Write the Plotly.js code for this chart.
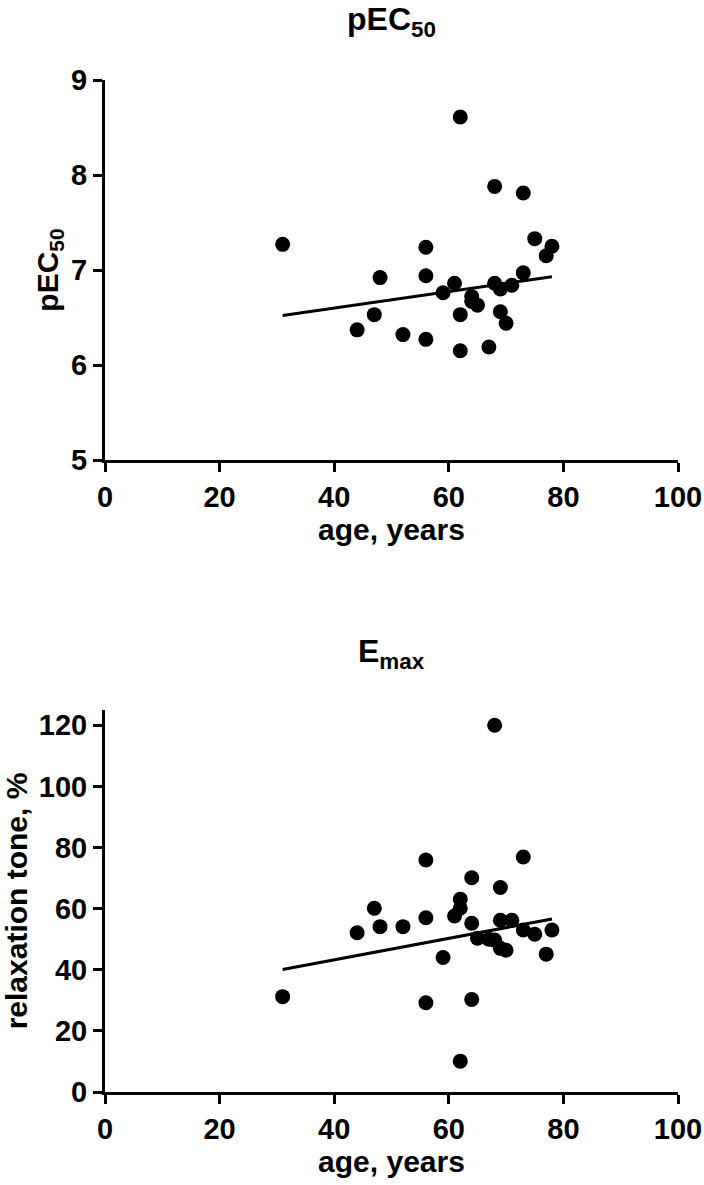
<!DOCTYPE html>
<html>
<head>
<meta charset="utf-8">
<script src="https://cdn.plot.ly/plotly-3.0.1.min.js"></script>
<style>
  body { margin: 0; background: #fff; }
  #chart_area { width: 704px; height: 1185px; }
</style>
</head>
<body>
<div id="chart_area"></div>
<script>
// pEC50 vs age
var ageP = [31, 62, 68, 73, 75, 78, 77, 56, 56, 48, 73, 61, 59, 68, 69, 71, 64, 64, 65, 69, 70, 62, 47, 44, 52, 56, 62, 67];
var pec50 = [7.27, 8.61, 7.88, 7.81, 7.33, 7.25, 7.15, 7.24, 6.94, 6.92, 6.97, 6.86, 6.76, 6.86, 6.80, 6.84, 6.72, 6.67, 6.63, 6.56, 6.44, 6.53, 6.53, 6.37, 6.32, 6.27, 6.15, 6.19];
var ageFitP = [31, 78];
var pec50Fit = [6.52, 6.93];

// Emax vs age
var ageE = [68, 56, 73, 64, 69, 62, 62, 61, 47, 44, 48, 52, 56, 64, 69, 71, 78, 73, 75, 65, 67, 68, 69, 70, 77, 59, 31, 56, 64, 62];
var emax = [120, 75.9, 76.9, 70.1, 66.9, 63.1, 60.1, 57.6, 60.1, 52.1, 54.1, 54.1, 57, 55.2, 56.2, 56.2, 53, 53, 51.6, 50.3, 50, 49.7, 47, 46.4, 45.1, 44, 31.2, 29.2, 30.3, 10.1];
var ageFitE = [31, 78];
var emaxFit = [40.1, 56.6];

var tickFont = { family: 'Liberation Sans, Arial, sans-serif', size: 29, color: '#000', weight: 'bold' };
var axisFont = { family: 'Liberation Sans, Arial, sans-serif', size: 30, color: '#000', weight: 'bold' };
var headFont = { family: 'Liberation Sans, Arial, sans-serif', size: 32, color: '#000', weight: 'bold' };

function dots(x, y, xa, ya) {
  return {
    type: 'scatter', mode: 'markers', x: x, y: y, xaxis: xa, yaxis: ya,
    marker: { color: '#000', size: 15 }, cliponaxis: false, hoverinfo: 'x+y'
  };
}
function fit(x, y, xa, ya) {
  return {
    type: 'scatter', mode: 'lines', x: x, y: y, xaxis: xa, yaxis: ya,
    line: { color: '#000', width: 3 }, hoverinfo: 'skip'
  };
}

var data = [
  fit(ageFitP, pec50Fit, 'x', 'y'),
  dots(ageP, pec50, 'x', 'y'),
  fit(ageFitE, emaxFit, 'x2', 'y2'),
  dots(ageE, emax, 'x2', 'y2')
];

function xax(anchor) {
  return {
    anchor: anchor, domain: [0, 1], range: [0, 100], dtick: 20, tick0: 0,
    showgrid: false, zeroline: false, showline: true, linecolor: '#000', linewidth: 3,
    ticks: 'outside', ticklen: 9, tickwidth: 3, tickcolor: '#000',
    tickfont: tickFont, title: { text: 'age, years', font: axisFont, standoff: 8 }
  };
}
function yax(anchor, dom, rng, dt, title, standoff) {
  return {
    anchor: anchor, domain: dom, range: rng, dtick: dt, tick0: 0,
    showgrid: false, zeroline: false, showline: true, linecolor: '#000', linewidth: 3,
    ticks: 'outside', ticklen: 9, tickwidth: 3, tickcolor: '#000',
    tickfont: tickFont, title: { text: title, font: axisFont, standoff: standoff }
  };
}

var layout = {
  width: 704, height: 1185,
  showlegend: false,
  paper_bgcolor: '#fff', plot_bgcolor: '#fff',
  font: tickFont,
  margin: { l: 105, r: 26, t: 80, b: 93 },
  xaxis: xax('y'),
  yaxis: yax('x', [0.6245, 1], [5, 9], 1, 'pEC<sub>50</sub>', 4),
  xaxis2: xax('y2'),
  yaxis2: yax('x2', [0, 0.3775], [0, 125], 20, 'relaxation tone, %', 6),
  annotations: [
    { text: 'pEC<sub>50</sub>', xref: 'paper', yref: 'paper', x: 0.5, y: 1.058,
      xanchor: 'center', yanchor: 'middle', showarrow: false, font: headFont },
    { text: 'E<sub>max</sub>', xref: 'paper', yref: 'paper', x: 0.5, y: 0.433,
      xanchor: 'center', yanchor: 'middle', showarrow: false, font: headFont }
  ]
};

Plotly.newPlot('chart_area', data, layout, { displayModeBar: false });
</script>
</body>
</html>
